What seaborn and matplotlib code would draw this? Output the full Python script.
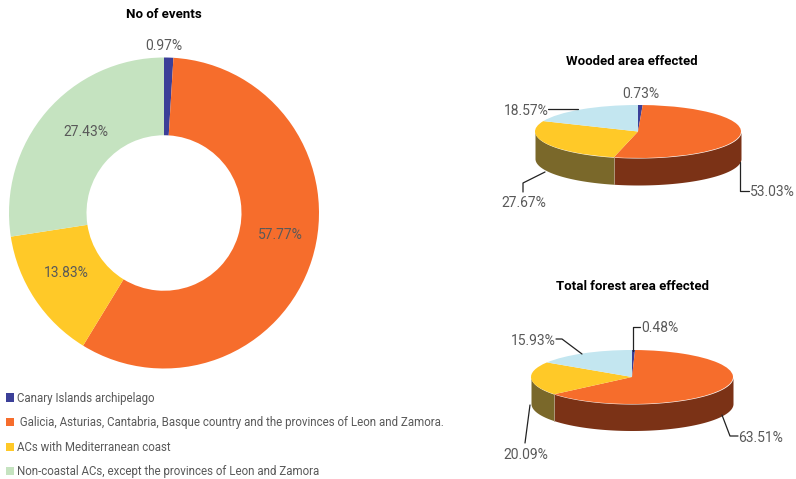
import numpy as np
import matplotlib
matplotlib.use("Agg")
import matplotlib.pyplot as plt
from matplotlib.patches import Patch
import seaborn as sns

W, H = 796, 479

region_labels = [
    "Canary Islands archipelago",
    " Galicia, Asturias, Cantabria, Basque country and the provinces of Leon and Zamora.",
    "ACs with Mediterranean coast",
    "Non-coastal ACs, except the provinces of Leon and Zamora",
]
events = [0.97, 57.77, 13.83, 27.43]
wooded = [0.73, 53.03, 27.67, 18.57]
forest = [0.48, 63.51, 20.09, 15.93]

palette_donut = ["#3B3F98", "#F66D2C", "#FFC928", "#C5E3C0"]
palette_top = ["#3B3F98", "#F66D2C", "#FFC928", "#C3E6F0"]
palette_side = ["#1E2050", "#7B3216", "#7A682A", "#627378"]

sns.set_theme(style="white")
plt.rcParams["font.family"] = ["Roboto", "DejaVu Sans"]
TEXT = "#595959"


def px_axes(fig, left, top, width, height):
    """Axes placed with pixel coordinates measured from the top left corner."""
    return fig.add_axes([left / W, 1 - (top + height) / H, width / W, height / H])


def pie_3d(fig, values, cx, cy, rx, ry, depth):
    ax = px_axes(fig, cx - rx, cy - ry, 2 * rx, ry + ry + depth)
    depth_u = depth / ry
    ax.pie(values, colors=palette_top, startangle=90, counterclock=False, radius=1,
           wedgeprops={"linewidth": 0})
    ax.set_aspect("auto")
    ax.set_xlim(-1, 1)
    ax.set_ylim(-1 - depth_u, 1)

    # side wall, only the front half of each slice is visible
    edges = 90 - np.cumsum([0] + list(values)) * 3.6
    for i in range(len(values)):
        t = np.radians(np.linspace(edges[i], edges[i + 1], 200))
        t = t[np.sin(t) <= 0]
        if len(t) == 0:
            continue
        ax.fill_between(np.cos(t), np.sin(t) - depth_u, np.sin(t),
                        color=palette_side[i], linewidth=0, zorder=0)
        if i > 0 and np.sin(t[0]) < 0:
            ax.plot([np.cos(t[0])] * 2, [np.sin(t[0]), np.sin(t[0]) - depth_u],
                    color="#B09A80", lw=0.6, zorder=0.5)
    return ax


fig = plt.figure(figsize=(W / 100, H / 100), dpi=100, facecolor="white")

# donut
ax_d = px_axes(fig, 9, 57.5, 310, 311)
ax_d.pie(events, colors=palette_donut, startangle=90, counterclock=False, radius=1,
         wedgeprops={"width": 0.5, "linewidth": 0})
ax_d.set_aspect("auto")
ax_d.set_xlim(-1, 1)
ax_d.set_ylim(-1, 1)

pie_3d(fig, wooded, 638, 131.5, 103, 26.5, 27)
pie_3d(fig, forest, 632, 377, 101, 27, 26.5)

# overlay in pixel coordinates for titles, labels and leader lines
ov = fig.add_axes([0, 0, 1, 1], zorder=5)
ov.set_xlim(0, W)
ov.set_ylim(H, 0)
ov.axis("off")

for txt, x, y in [("No of events", 164, 14),
                  ("Wooded area effected", 632, 61),
                  ("Total forest area effected", 632, 286)]:
    ov.text(x, y, txt, ha="center", va="center", fontsize=9.5, fontweight="bold", color="black")

label_spots = [
    (events[0], 164, 46), (events[1], 280, 235), (events[2], 66, 273), (events[3], 86, 132),
    (wooded[0], 641, 94), (wooded[1], 772, 192), (wooded[2], 524, 203), (wooded[3], 526, 111),
    (forest[0], 660, 328), (forest[1], 761, 438), (forest[2], 526, 455), (forest[3], 533, 341),
]
for val, x, y in label_spots:
    ov.text(x, y, f"{val:.2f}%", ha="center", va="center", fontsize=10, color=TEXT)

leaders = [
    ([548, 578], [109, 109]),
    ([740, 740, 749], [162, 191, 191]),
    ([545, 523, 523], [172, 183, 192]),
    ([556, 562, 582], [339, 339, 354]),
    ([633, 633, 640], [351, 327, 327]),
    ([722, 730, 738], [415, 436, 436]),
    ([530, 525], [405, 443]),
]
for xs, ys in leaders:
    ov.plot(xs, ys, color="#222222", lw=0.9)

handles = [Patch(facecolor=c, edgecolor="none") for c in palette_donut]
fig.legend(handles, region_labels, loc="upper left", bbox_to_anchor=(0.0013, 1 - 387 / H),
           frameon=False, fontsize=8.3, labelcolor=TEXT, handlelength=0.72, handleheight=0.72,
           handletextpad=0.3, labelspacing=1.0, borderpad=0, borderaxespad=0.4)

plt.savefig("out.png", dpi=100)
plt.close()
